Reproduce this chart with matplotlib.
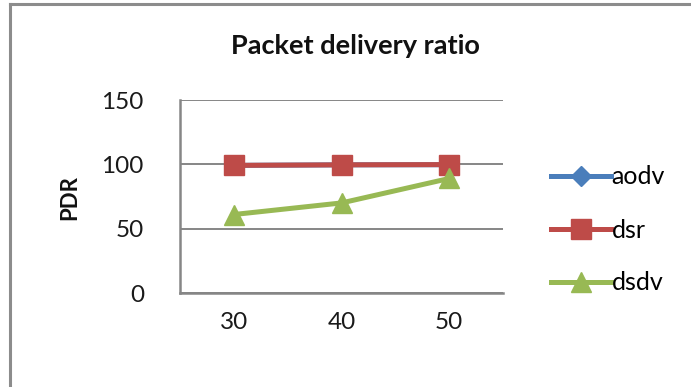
import matplotlib
matplotlib.use("Agg")
from matplotlib import pyplot as plt
from matplotlib.lines import Line2D

# Packet delivery ratio per node count
nodes = ['30', '40', '50']
aodv = [99.2, 99.6, 99.7]
dsr = [99.2, 99.6, 99.8]
dsdv = [61, 70, 89]

plt.rcParams['font.family'] = ['Lato', 'DejaVu Sans']

fig = plt.figure(figsize=(6.91, 3.87), dpi=100)
ax = fig.add_axes([180 / 691, 1 - 293 / 387, 323 / 691, 193 / 387])

x = range(len(nodes))
ax.plot(x, aodv, color='#4A7EBB', lw=3.6, marker='D', ms=10, label='aodv', zorder=3)
ax.plot(x, dsr, color='#BE4B48', lw=3.6, marker='s', ms=14, label='dsr', zorder=4)
ax.plot(x, dsdv, color='#98B954', lw=3.6, marker='^', ms=15, label='dsdv', zorder=5)

ax.set_xlim(-0.5, 2.5)
ax.set_ylim(0, 150)
ax.set_yticks([0, 50, 100, 150])
ax.set_xticks(list(x))
ax.set_xticklabels(nodes)
ax.tick_params(axis='both', length=0, labelsize=17.5, colors='#1a1a1a', pad=14)
ax.tick_params(axis='y', pad=26)
ax.grid(axis='y', color='#868686', lw=1.4)
ax.set_axisbelow(True)
for side in ['top', 'right']:
    ax.spines[side].set_visible(False)
for side in ['left', 'bottom']:
    ax.spines[side].set_color('#868686')
    ax.spines[side].set_linewidth(1.8)

fig.text(355 / 691, 1 - 46 / 387, 'Packet delivery ratio', ha='center', va='center',
         fontsize=19.5, fontweight='bold', color='#111111')
fig.text(70 / 691, 1 - 198 / 387, 'PDR', ha='center', va='center', rotation=90,
         fontsize=16, fontweight='bold', color='#111111')

ax.legend(loc='upper left', bbox_to_anchor=(538 / 691, 1 - 153 / 387),
          bbox_transform=fig.transFigure, frameon=False, fontsize=18,
          handlelength=2.4, handletextpad=0.05, labelspacing=1.2, borderpad=0)

# chart frame, top and left edges
fig.add_artist(Line2D([10 / 691, 10 / 691], [0, 1 - 4 / 387], color='#8c8c8c', lw=2.2,
                      transform=fig.transFigure))
fig.add_artist(Line2D([10 / 691, 1], [1 - 4 / 387, 1 - 4 / 387], color='#8c8c8c', lw=2.2,
                      transform=fig.transFigure))

fig.savefig('out.png', dpi=100)
